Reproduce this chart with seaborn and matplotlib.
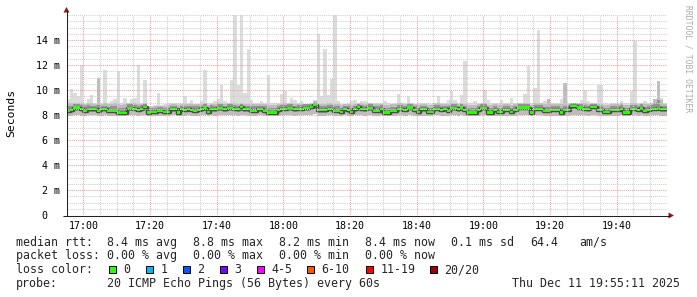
import numpy as np
import pandas as pd
import matplotlib
matplotlib.use("Agg")
import matplotlib.pyplot as plt
import matplotlib.dates as mdates
from matplotlib.patches import Rectangle, Polygon
from matplotlib.ticker import MultipleLocator, FixedLocator
import seaborn as sns

# ---------------- data (one value per minute, 16:55 .. 19:54) ----------------
start_time = "2025-12-11 16:55"

rtt_median = [
    8.35, 8.4, 8.6, 8.6, 8.5, 8.35, 8.5, 8.45, 8.45, 8.35, 8.45, 8.45, 8.3, 8.3, 8.3, 8.2, 8.15, 8.15, 8.55, 8.55,
    8.5, 8.4, 8.5, 8.65, 8.2, 8.25, 8.25, 8.3, 8.3, 8.25, 8.25, 8.45, 8.45, 8.2, 8.45, 8.4, 8.45, 8.4, 8.35, 8.4,
    8.45, 8.6, 8.25, 8.5, 8.45, 8.55, 8.55, 8.45, 8.55, 8.55, 8.5, 8.45, 8.65, 8.45, 8.45, 8.35, 8.35, 8.45, 8.45, 8.35,
    8.2, 8.2, 8.2, 8.4, 8.5, 8.5, 8.55, 8.55, 8.45, 8.5, 8.5, 8.55, 8.55, 8.65, 8.8, 8.4, 8.4, 8.4, 8.5, 8.5,
    8.35, 8.35, 8.25, 8.45, 8.4, 8.25, 8.45, 8.65, 8.5, 8.45, 8.55, 8.55, 8.35, 8.35, 8.5, 8.2, 8.2, 8.3, 8.3, 8.5,
    8.5, 8.4, 8.6, 8.6, 8.4, 8.25, 8.45, 8.45, 8.25, 8.25, 8.5, 8.5, 8.4, 8.45, 8.35, 8.55, 8.55, 8.45, 8.6, 8.4,
    8.2, 8.2, 8.2, 8.4, 8.55, 8.55, 8.2, 8.2, 8.4, 8.25, 8.25, 8.4, 8.4, 8.25, 8.4, 8.6, 8.6, 8.6, 8.6, 8.2,
    8.5, 8.5, 8.5, 8.3, 8.3, 8.4, 8.4, 8.4, 8.2, 8.4, 8.4, 8.7, 8.7, 8.6, 8.6, 8.5, 8.45, 8.65, 8.65, 8.4,
    8.4, 8.25, 8.25, 8.4, 8.4, 8.4, 8.5, 8.2, 8.2, 8.5, 8.5, 8.4, 8.55, 8.35, 8.4, 8.5, 8.5, 8.55, 8.45, 8.45,
]

rtt_max = [
    9.3, 10.1, 9.8, 9.5, 12.0, 9.0, 9.3, 9.6, 9.0, 11.0, 9.0, 11.6, 9.0, 9.1, 9.3, 11.5, 9.0, 9.4, 9.0, 9.3,
    9.4, 12.0, 9.0, 10.8, 8.7, 8.7, 8.8, 9.8, 8.8, 8.9, 9.0, 9.0, 9.0, 9.0, 9.0, 9.5, 9.0, 9.2, 8.9, 8.9,
    9.1, 11.6, 9.0, 9.0, 9.1, 9.3, 10.4, 9.1, 9.0, 10.8, 16.0, 10.4, 16.0, 9.8, 13.3, 9.2, 9.0, 9.0, 9.1, 9.0,
    11.2, 9.0, 9.0, 9.0, 9.7, 9.9, 9.0, 9.4, 9.2, 9.0, 9.1, 8.9, 8.9, 9.0, 9.2, 14.5, 9.5, 13.3, 9.6, 10.9,
    16.0, 9.1, 8.9, 8.9, 9.0, 9.1, 9.2, 9.0, 9.1, 9.1, 9.0, 9.0, 9.0, 9.0, 9.0, 9.1, 9.0, 8.9, 9.0, 9.7,
    9.0, 9.0, 9.5, 9.0, 8.9, 9.0, 9.0, 9.0, 9.0, 8.9, 9.0, 9.5, 9.0, 9.0, 9.2, 9.9, 9.2, 9.0, 9.6, 12.3,
    9.0, 9.0, 9.1, 9.0, 9.0, 10.0, 9.2, 9.0, 9.0, 9.0, 9.2, 9.0, 9.0, 9.4, 9.0, 9.0, 9.0, 9.7, 11.9, 9.0,
    10.2, 14.8, 9.0, 9.1, 9.3, 9.0, 9.0, 9.0, 9.3, 10.6, 9.0, 9.0, 9.0, 9.0, 9.2, 9.9, 9.1, 9.0, 9.0, 10.4,
    10.4, 9.0, 8.9, 9.0, 9.0, 9.0, 9.1, 9.0, 9.0, 9.9, 13.9, 9.0, 9.0, 9.1, 9.0, 9.0, 9.3, 10.7, 9.4, 9.0,
]

rtt_p90 = [
    9.0, 9.0, 8.95, 8.95, 8.95, 8.85, 8.95, 8.95, 8.9, 11.0, 8.9, 8.95, 8.85, 8.9, 8.95, 8.85, 8.8, 8.85, 8.95, 8.95,
    8.95, 8.9, 8.9, 8.95, 8.65, 8.65, 8.7, 8.75, 8.75, 8.75, 8.8, 8.9, 8.9, 8.8, 8.9, 8.9, 8.9, 8.9, 8.85, 8.85,
    8.9, 8.95, 8.8, 8.9, 8.9, 8.95, 8.95, 8.9, 8.95, 8.95, 8.95, 8.9, 9.0, 8.9, 8.9, 8.85, 8.85, 8.9, 8.9, 8.85,
    8.8, 8.8, 8.8, 8.85, 8.9, 8.95, 8.95, 8.95, 8.9, 8.9, 8.9, 8.9, 8.9, 8.95, 9.1, 8.9, 8.9, 8.9, 8.95, 8.95,
    8.85, 8.85, 8.8, 8.9, 8.85, 8.8, 8.9, 9.0, 8.95, 8.9, 8.95, 8.95, 8.85, 8.85, 8.9, 8.8, 8.8, 8.85, 8.85, 8.95,
    8.95, 8.85, 9.0, 9.0, 8.85, 8.8, 8.9, 8.9, 8.8, 8.8, 8.95, 8.95, 8.85, 8.9, 8.85, 8.95, 8.95, 8.9, 9.0, 8.9,
    8.8, 8.8, 8.8, 8.9, 8.95, 8.95, 8.8, 8.8, 8.85, 8.8, 8.8, 8.85, 8.85, 8.8, 8.9, 9.0, 9.0, 9.0, 9.0, 8.8,
    8.95, 8.95, 8.95, 8.85, 9.3, 8.9, 8.9, 8.9, 8.85, 10.6, 8.9, 9.0, 9.0, 9.0, 9.0, 8.95, 8.9, 9.0, 9.0, 8.9,
    8.9, 8.8, 8.8, 8.9, 8.9, 8.9, 8.95, 8.8, 8.8, 8.95, 8.95, 8.9, 8.95, 8.85, 8.9, 8.95, 9.3, 10.7, 9.2, 8.9,
]

rtt_q3 = [
    8.7, 8.75, 8.85, 8.85, 8.8, 8.7, 8.8, 8.75, 8.75, 8.8, 8.75, 8.75, 8.65, 8.7, 8.7, 8.6, 8.55, 8.6, 8.85, 8.85,
    8.8, 8.75, 8.8, 8.9, 8.55, 8.6, 8.6, 8.65, 8.65, 8.6, 8.6, 8.75, 8.75, 8.6, 8.75, 8.75, 8.75, 8.75, 8.7, 8.7,
    8.75, 8.85, 8.6, 8.8, 8.75, 8.85, 8.85, 8.75, 8.85, 8.85, 8.8, 8.75, 8.9, 8.75, 8.75, 8.7, 8.7, 8.75, 8.75, 8.7,
    8.6, 8.6, 8.6, 8.7, 8.8, 8.8, 8.85, 8.85, 8.75, 8.8, 8.8, 8.85, 8.85, 8.9, 9.0, 8.75, 8.75, 8.75, 8.8, 8.8,
    8.7, 8.7, 8.6, 8.75, 8.7, 8.6, 8.75, 8.9, 8.8, 8.75, 8.85, 8.85, 8.7, 8.7, 8.8, 8.6, 8.6, 8.65, 8.65, 8.8,
    8.8, 8.7, 8.85, 8.85, 8.7, 8.6, 8.75, 8.75, 8.6, 8.6, 8.8, 8.8, 8.7, 8.75, 8.7, 8.85, 8.85, 8.75, 8.85, 8.7,
    8.6, 8.6, 8.6, 8.7, 8.85, 8.85, 8.6, 8.6, 8.7, 8.6, 8.6, 8.7, 8.7, 8.6, 8.7, 8.85, 8.85, 8.85, 8.85, 8.6,
    8.8, 8.8, 8.8, 8.65, 8.65, 8.7, 8.7, 8.7, 8.6, 8.7, 8.7, 8.95, 8.95, 8.85, 8.85, 8.8, 8.75, 8.9, 8.9, 8.7,
    8.7, 8.6, 8.6, 8.7, 8.7, 8.7, 8.8, 8.6, 8.6, 8.8, 8.8, 8.7, 8.85, 8.65, 8.7, 8.8, 9.0, 9.2, 8.75, 8.75,
]

rtt_q1 = [
    8.2, 8.2, 8.35, 8.4, 8.3, 8.2, 8.3, 8.25, 8.25, 8.2, 8.25, 8.3, 8.15, 8.15, 8.15, 8.1, 8.08, 8.08, 8.35, 8.35,
    8.3, 8.25, 8.3, 8.4, 8.1, 8.12, 8.12, 8.15, 8.15, 8.12, 8.12, 8.25, 8.25, 8.1, 8.25, 8.25, 8.25, 8.25, 8.2, 8.25,
    8.25, 8.35, 8.12, 8.3, 8.25, 8.3, 8.35, 8.25, 8.3, 8.3, 8.3, 8.25, 8.4, 8.25, 8.25, 8.2, 8.2, 8.25, 8.25, 8.2,
    8.1, 8.1, 8.1, 8.2, 8.3, 8.3, 8.35, 8.35, 8.25, 8.3, 8.3, 8.35, 8.35, 8.4, 8.5, 8.2, 8.2, 8.2, 8.3, 8.3,
    8.2, 8.2, 8.12, 8.25, 8.2, 8.12, 8.25, 8.4, 8.3, 8.25, 8.35, 8.35, 8.2, 8.2, 8.3, 8.1, 8.1, 8.15, 8.15, 8.3,
    8.3, 8.25, 8.4, 8.4, 8.25, 8.12, 8.25, 8.25, 8.12, 8.12, 8.3, 8.3, 8.25, 8.25, 8.2, 8.35, 8.35, 8.25, 8.4, 8.25,
    8.1, 8.1, 8.1, 8.25, 8.35, 8.35, 8.1, 8.1, 8.25, 8.12, 8.12, 8.25, 8.25, 8.12, 8.25, 8.4, 8.4, 8.4, 8.4, 8.1,
    8.3, 8.3, 8.3, 8.15, 8.15, 8.25, 8.25, 8.25, 8.1, 8.25, 8.25, 8.45, 8.45, 8.4, 8.4, 8.3, 8.25, 8.4, 8.4, 8.25,
    8.25, 8.12, 8.12, 8.25, 8.25, 8.25, 8.3, 8.1, 8.1, 8.3, 8.3, 8.25, 8.35, 8.2, 8.25, 8.3, 8.3, 8.35, 8.25, 8.25,
]

rtt_min = [
    7.95, 7.95, 7.98, 8.0, 7.95, 7.92, 7.98, 8.0, 7.98, 7.95, 7.95, 7.98, 7.92, 7.92, 7.9, 7.9, 7.9, 7.92, 7.98, 7.98,
    7.98, 7.95, 7.98, 8.0, 7.92, 7.92, 7.95, 7.95, 7.95, 7.92, 7.95, 7.98, 7.98, 7.92, 7.95, 7.95, 7.98, 7.95, 7.95, 7.95,
    7.98, 7.98, 7.95, 7.98, 7.95, 7.98, 8.0, 7.98, 7.98, 8.0, 7.98, 7.95, 8.0, 7.98, 7.95, 7.95, 7.95, 7.98, 7.98, 7.95,
    7.9, 7.9, 7.92, 7.95, 7.98, 7.98, 8.0, 8.0, 7.95, 7.98, 7.98, 8.0, 8.0, 8.0, 8.05, 7.95, 7.95, 7.95, 7.98, 7.98,
    7.95, 7.95, 7.92, 7.98, 7.95, 7.92, 7.98, 8.0, 7.98, 7.95, 7.98, 7.98, 7.95, 7.95, 7.98, 7.9, 7.9, 7.95, 7.95, 7.98,
    7.98, 7.95, 8.0, 8.0, 7.95, 7.92, 7.95, 7.95, 7.92, 7.92, 7.98, 7.98, 7.95, 7.95, 7.95, 7.98, 7.98, 7.95, 8.0, 7.95,
    7.9, 7.9, 7.92, 7.95, 7.98, 7.98, 7.9, 7.9, 7.95, 7.92, 7.92, 7.95, 7.95, 7.92, 7.95, 8.0, 8.0, 8.0, 8.0, 7.9,
    7.98, 7.98, 7.98, 7.95, 7.95, 7.95, 7.95, 7.95, 7.9, 7.95, 7.95, 8.0, 8.0, 8.0, 8.0, 7.98, 7.95, 8.0, 8.0, 7.95,
    7.95, 7.92, 7.92, 7.95, 7.95, 7.95, 7.98, 7.9, 7.9, 7.98, 7.98, 7.95, 7.98, 7.95, 7.95, 7.98, 7.98, 7.98, 7.95, 7.95,
]

y_tick_values = [0, 2, 4, 6, 8, 10, 12, 14]
y_tick_labels = ["0  ", "2 m", "4 m", "6 m", "8 m", "10 m", "12 m", "14 m"]
y_label = "Seconds"
watermark = "RRDTOOL / TOBI OETIKER"

rtt_label = "median rtt:"
rtt_stats = ["8.4 ms avg", "8.8 ms max", "8.2 ms min", "8.4 ms now", "0.1 ms sd", "64.4", "am/s"]
loss_label = "packet loss:"
loss_stats = ["0.00 % avg", "0.00 % max", "0.00 % min", "0.00 % now"]
color_label = "loss color:"
loss_names = ["0", "1", "2", "3", "4-5", "6-10", "11-19", "20/20"]
loss_colors = ["#26ff00", "#00b8ff", "#0059ff", "#7e00ff", "#ff00ff", "#ff5500", "#ff0000", "#a00000"]
probe_label = "probe:"
probe_text = "20 ICMP Echo Pings (56 Bytes) every 60s"
stamp_text = "Thu Dec 11 19:55:11 2025"

# ---------------- figure ----------------
sns.set_theme(style="white")
plt.rcParams['font.family'] = ['DejaVu Sans Mono', 'DejaVu Sans']

W, H = 697, 297
fig = plt.figure(figsize=(W / 100, H / 100), dpi=100)
fig.patch.set_facecolor("white")

px_left, px_right, px_top, px_bottom = 66.67, 666.67, 15.0, 215.0
ax = fig.add_axes([px_left / W, 1 - px_bottom / H, (px_right - px_left) / W, (px_bottom - px_top) / H])
ax.set_facecolor("white")

n = len(rtt_median)
times = pd.date_range(start_time, periods=n + 1, freq="min")


def ext(a):
    a = np.asarray(a, dtype=float)
    return np.append(a, a[-1])


ax.fill_between(times, ext(rtt_min), ext(rtt_max), step="post", color="#dcdcdc", lw=0, zorder=1.0)
ax.fill_between(times, ext(rtt_min), ext(rtt_p90), step="post", color="#bdbdbd", lw=0, zorder=1.1)
ax.fill_between(times, ext(rtt_q1), ext(rtt_q3), step="post", color="#939393", lw=0, zorder=1.2)

df = pd.DataFrame({"time": times, "median": ext(rtt_median)})
sns.lineplot(data=df, x="time", y="median", drawstyle="steps-post", color="#4a4a4a",
             lw=2.5, ax=ax, zorder=1.3)
green_h = 0.17
ax.bar(times[:-1], height=green_h, bottom=np.asarray(rtt_median) - green_h / 2,
       width=1 / 1440, align="edge", color=loss_colors[0], lw=0, zorder=1.4)

ax.set_xlim(times[0], times[-1])
ax.set_ylim(0, 16)
ax.set_xlabel("")
ax.set_ylabel("")

ax.xaxis.set_major_locator(mdates.MinuteLocator(byminute=[0, 20, 40]))
ax.xaxis.set_minor_locator(mdates.MinuteLocator(byminute=range(0, 60, 5)))
ax.xaxis.set_major_formatter(mdates.DateFormatter("%H:%M"))
ax.yaxis.set_major_locator(FixedLocator(y_tick_values))
ax.set_yticklabels(y_tick_labels)
ax.yaxis.set_minor_locator(MultipleLocator(0.5))

ax.grid(which="minor", color="#cfcfcf", linestyle=(0, (1, 1)), linewidth=0.75)
ax.grid(which="major", color="#eaa0a0", linestyle=(0, (1, 1)), linewidth=0.75)
ax.set_axisbelow(False)
for s in ax.spines.values():
    s.set_visible(False)

ax.tick_params(axis="both", which="both", direction="out", length=1.5, width=0.7,
               color="#404040", labelsize=7.2, labelcolor="black")
ax.tick_params(axis="y", which="both", pad=3.4)
ax.tick_params(axis="x", which="both", pad=2.9)
for lab in ax.get_xticklabels() + ax.get_yticklabels():
    lab.set_family("DejaVu Sans Mono")

# ---------------- overlay in pixel coordinates ----------------
ov = fig.add_axes([0, 0, 1, 1], zorder=5)
ov.set_xlim(0, W)
ov.set_ylim(H, 0)
ov.axis("off")
ov.patch.set_alpha(0)

ov.plot([66.5, 66.5], [216, 11], color="#222222", lw=0.75, solid_capstyle="butt")
ov.plot([63, 670], [215.5, 215.5], color="#222222", lw=0.75, solid_capstyle="butt")
ov.add_patch(Polygon([[63.5, 12.5], [69.5, 12.5], [66.5, 7.0]], closed=True, color="#8b1a1a", lw=0))
ov.add_patch(Polygon([[668.5, 212.5], [668.5, 218.5], [674.0, 215.5]], closed=True, color="#8b1a1a", lw=0))

ov.text(11.5, 113, y_label, rotation=90, ha="center", va="center", fontsize=8.2, color="black")
ov.text(688, 5, watermark, rotation=270, ha="center", va="top", fontsize=5.8, color="#aaaaaa")

fs = 8.4
row_y = [245.7, 259.3, 273.3, 287.3]
col_x = [107.3, 193.3, 279.3, 365.3, 451.3, 530.3, 579.3]

ov.text(16, row_y[0], rtt_label, fontsize=fs, va="baseline", ha="left")
for xx, s in zip(col_x, rtt_stats):
    ov.text(xx, row_y[0], s, fontsize=fs, va="baseline", ha="left")

ov.text(16, row_y[1], loss_label, fontsize=fs, va="baseline", ha="left")
for xx, s in zip(col_x, loss_stats):
    ov.text(xx, row_y[1], s, fontsize=fs, va="baseline", ha="left")

ov.text(16, row_y[2], color_label, fontsize=fs, va="baseline", ha="left")
box_x = [108.7, 145.7, 182.7, 219.7, 256.7, 306.7, 366.0, 429.7]
for bx, name, col in zip(box_x, loss_names, loss_colors):
    ov.add_patch(Rectangle((bx, 265.8), 7.2, 7.2, facecolor=col, edgecolor="black", lw=0.7))
    ov.text(bx + 14.5, row_y[2], name, fontsize=fs, va="baseline", ha="left")

ov.text(16, row_y[3], probe_label, fontsize=fs, va="baseline", ha="left")
ov.text(col_x[0], row_y[3], probe_text, fontsize=fs, va="baseline", ha="left")
ov.text(680.5, row_y[3], stamp_text, fontsize=fs, va="baseline", ha="right")

fig.savefig("out.png", dpi=100, facecolor="white")
